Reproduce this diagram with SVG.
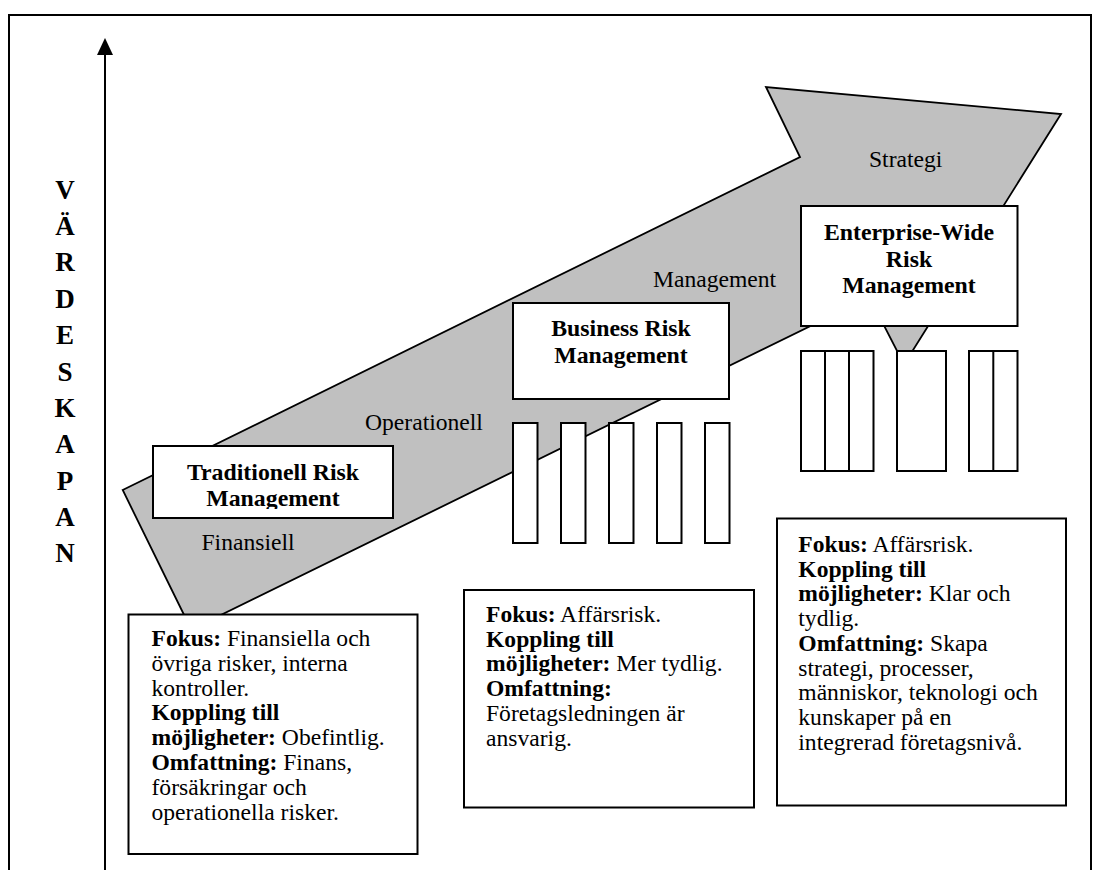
<svg xmlns="http://www.w3.org/2000/svg" width="1099" height="870" viewBox="0 0 1099 870">
<defs>
<style>
.frame{fill:none;stroke:#000;stroke-width:2}
.box{fill:#fff;stroke:#000;stroke-width:2}
.band{fill:#c0c0c0;stroke:#000;stroke-width:1.8;stroke-linejoin:miter}
.t{font-family:"Liberation Serif","Times New Roman",serif;fill:#000}
.title{font-size:23.8px;font-weight:bold;text-anchor:middle}
.body{font-size:23.6px}
.lbl{font-size:23.6px}
.b{font-weight:bold}
.axisL{font-family:"Liberation Serif","Times New Roman",serif;font-size:27px;font-weight:bold;text-anchor:middle}
.pl{stroke:#000;stroke-width:2}
</style>
<clipPath id="clipTrad"><rect x="153" y="446" width="240" height="63"/></clipPath>
</defs>
<rect x="0" y="0" width="1099" height="870" fill="#fff"/>
<path class="frame" d="M9,872 V15 H1091 V872"/>

<g id="connectors">
<line x1="105" y1="872" x2="105" y2="54" stroke="#000" stroke-width="2"/>
<polygon points="97,55 113,55 105,38" fill="#000"/>
</g>

<g id="axis-label" class="axisL">
<text x="65" y="199">V</text>
<text x="65" y="235">Ä</text>
<text x="65" y="271">R</text>
<text x="65" y="308">D</text>
<text x="65" y="344">E</text>
<text x="65" y="381">S</text>
<text x="65" y="417">K</text>
<text x="65" y="453">A</text>
<text x="65" y="490">P</text>
<text x="65" y="526">A</text>
<text x="65" y="562">N</text>
</g>

<g id="band">
<polygon class="band" points="122.7,490 800,157 766,87 1061,114 904,364.5 869.4,297.2 191.2,629.5"/>
<text class="t lbl" x="201.5" y="550">Finansiell</text>
<text class="t lbl" x="365" y="430">Operationell</text>
<text class="t lbl" x="653" y="287">Management</text>
<text class="t lbl" x="869" y="166.5">Strategi</text>
</g>

<g id="node-traditionell">
<rect class="box" x="153" y="446" width="240" height="72"/>
<g clip-path="url(#clipTrad)">
<text class="t title" x="273" y="480">Traditionell Risk</text>
<text class="t title" x="273" y="506">Management</text>
</g>
</g>

<g id="node-business">
<rect class="box" x="513" y="303" width="216" height="96"/>
<text class="t title" x="621" y="336">Business Risk</text>
<text class="t title" x="621" y="363">Management</text>
</g>

<g id="pillars-business">
<rect class="box" x="513" y="423" width="24.5" height="120"/>
<rect class="box" x="561" y="423" width="24.5" height="120"/>
<rect class="box" x="609" y="423" width="24.5" height="120"/>
<rect class="box" x="657" y="423" width="24.5" height="120"/>
<rect class="box" x="705" y="423" width="24.5" height="120"/>
</g>

<g id="node-enterprise">
<rect class="box" x="801" y="206" width="216.5" height="120"/>
<text class="t title" x="909" y="240">Enterprise-Wide</text>
<text class="t title" x="909" y="267">Risk</text>
<text class="t title" x="909" y="293">Management</text>
</g>

<g id="pillars-enterprise">
<rect class="box" x="801" y="351" width="72.5" height="120"/>
<line class="pl" x1="825" y1="351" x2="825" y2="471"/>
<line class="pl" x1="849" y1="351" x2="849" y2="471"/>
<rect class="box" x="897" y="351" width="49" height="120"/>
<rect class="box" x="969" y="351" width="48.5" height="120"/>
<line class="pl" x1="993.3" y1="351" x2="993.3" y2="471"/>
</g>

<g id="info-traditionell">
<rect class="box" x="128.5" y="614.5" width="289" height="239.5"/>
<g class="t body">
<text x="151.5" y="646"><tspan class="b">Fokus:</tspan> Finansiella och</text>
<text x="151.5" y="670.8">övriga risker, interna</text>
<text x="151.5" y="695.6">kontroller.</text>
<text x="151.5" y="720.4" class="b">Koppling till</text>
<text x="151.5" y="745.2"><tspan class="b">möjligheter:</tspan> Obefintlig.</text>
<text x="151.5" y="770"><tspan class="b">Omfattning:</tspan> Finans,</text>
<text x="151.5" y="794.8">försäkringar och</text>
<text x="151.5" y="819.6">operationella risker.</text>
</g>
</g>

<g id="info-business">
<rect class="box" x="464" y="590" width="290" height="217.5"/>
<g class="t body">
<text x="486" y="621.7"><tspan class="b">Fokus:</tspan> Affärsrisk.</text>
<text x="486" y="646.5" class="b">Koppling till</text>
<text x="486" y="671.3"><tspan class="b">möjligheter:</tspan> Mer tydlig.</text>
<text x="486" y="696.1" class="b">Omfattning:</text>
<text x="486" y="720.9">Företagsledningen är</text>
<text x="486" y="745.7">ansvarig.</text>
</g>
</g>

<g id="info-enterprise">
<rect class="box" x="777" y="518.5" width="289" height="287"/>
<g class="t body">
<text x="798.3" y="551.7"><tspan class="b">Fokus:</tspan> Affärsrisk.</text>
<text x="798.3" y="576.5" class="b">Koppling till</text>
<text x="798.3" y="601.2"><tspan class="b">möjligheter:</tspan> Klar och</text>
<text x="798.3" y="626">tydlig.</text>
<text x="798.3" y="650.7"><tspan class="b">Omfattning:</tspan> Skapa</text>
<text x="798.3" y="675.5">strategi, processer,</text>
<text x="798.3" y="700.2">människor, teknologi och</text>
<text x="798.3" y="725">kunskaper på en</text>
<text x="798.3" y="749.7">integrerad företagsnivå.</text>
</g>
</g>
</svg>
